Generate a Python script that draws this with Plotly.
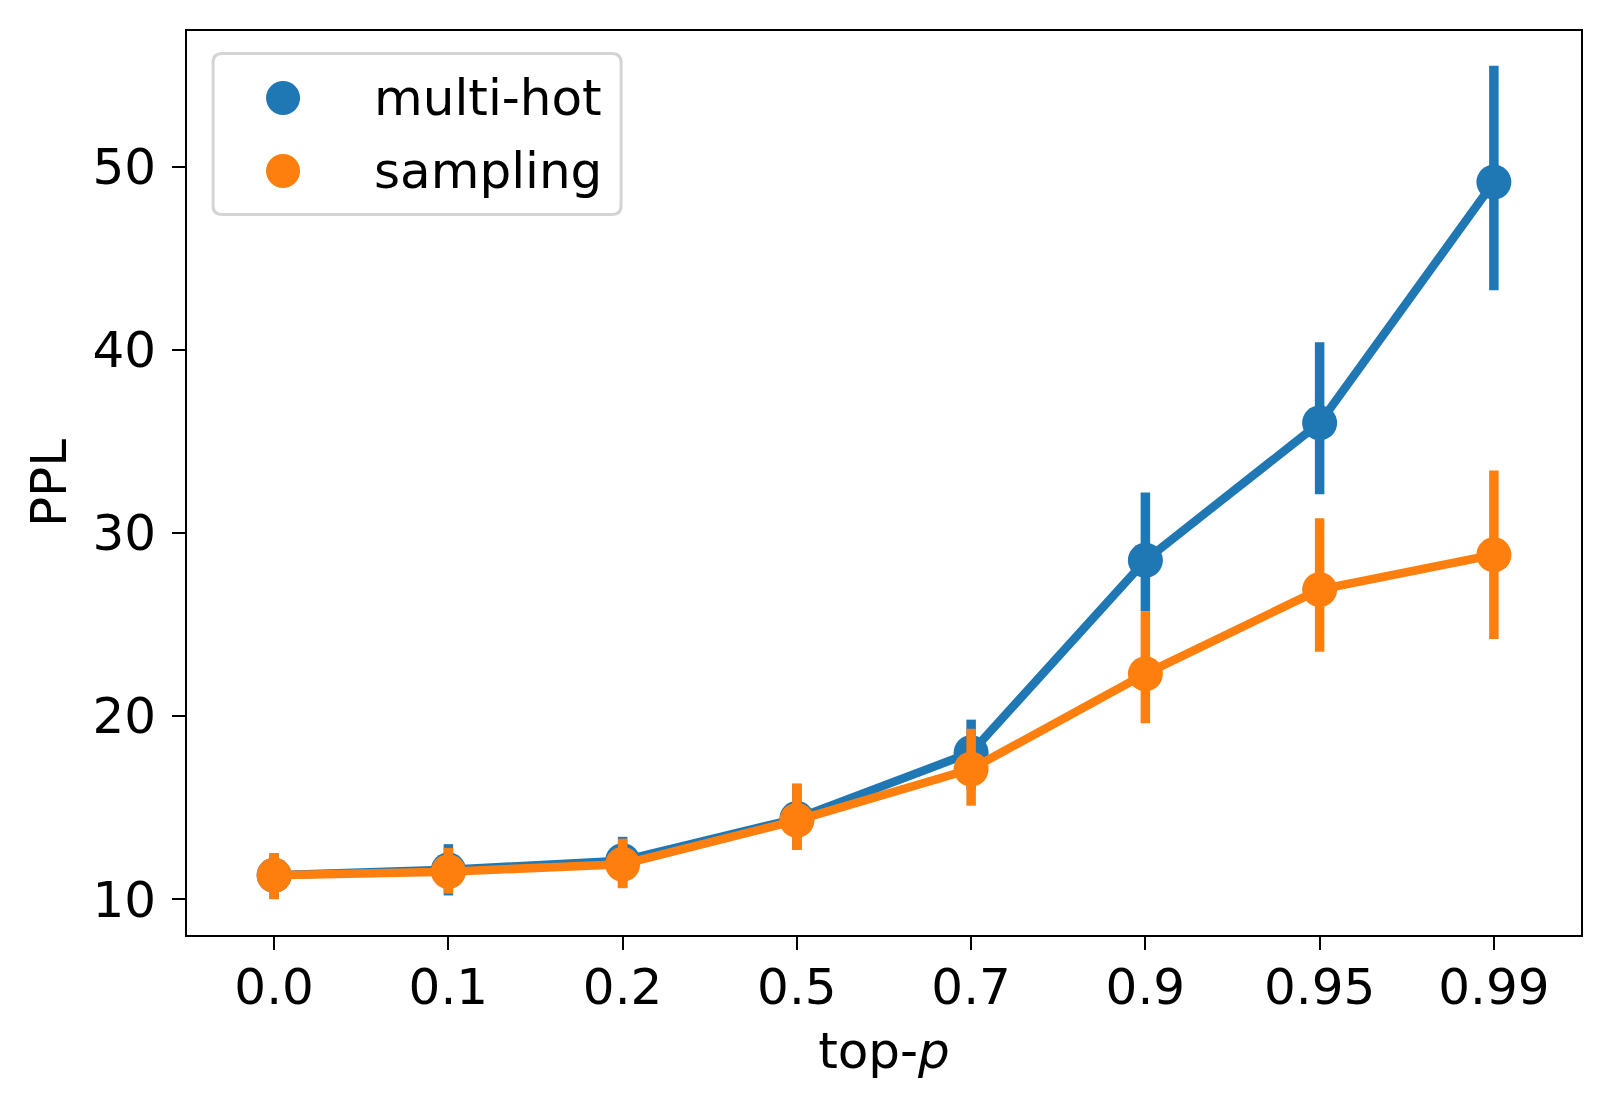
import plotly.graph_objects as go

top_p = ["0.0", "0.1", "0.2", "0.5", "0.7", "0.9", "0.95", "0.99"]

multi_hot_mean = [11.3, 11.6, 12.1, 14.4, 18.0, 28.5, 36.0, 49.15]
multi_hot_hi = [12.5, 13.0, 13.4, 16.3, 19.8, 32.2, 40.4, 55.5]
multi_hot_lo = [10.0, 10.2, 10.6, 12.7, 16.0, 25.7, 32.1, 43.25]

sampling_mean = [11.3, 11.5, 11.9, 14.3, 17.1, 22.3, 26.9, 28.8]
sampling_hi = [12.5, 12.8, 13.3, 16.3, 19.3, 25.7, 30.8, 33.4]
sampling_lo = [10.0, 10.3, 10.6, 12.7, 15.1, 19.6, 23.5, 24.2]

y_ticks = [10, 20, 30, 40, 50]

BLUE = "#1f77b4"
ORANGE = "#ff7f0e"
FONT = "DejaVu Sans"
FS = 50


def add_series(fig, name, mean, lo, hi, color):
    up = [h - m for h, m in zip(hi, mean)]
    down = [m - l for m, l in zip(mean, lo)]
    fig.add_trace(go.Scatter(
        x=top_p, y=mean, name=name, mode="lines+markers",
        line=dict(color=color, width=8.5),
        marker=dict(color=color, size=35, line=dict(width=0)),
        error_y=dict(type="data", array=up, arrayminus=down,
                     color=color, thickness=9.5, width=0),
        showlegend=False,
    ))


fig = go.Figure()
add_series(fig, "multi-hot", multi_hot_mean, multi_hot_lo, multi_hot_hi, BLUE)
add_series(fig, "sampling", sampling_mean, sampling_lo, sampling_hi, ORANGE)

# legend drawn by hand (matplotlib-style rounded box with big round markers)
# box is 408 x 161 px, anchored at its top-left corner
w, h, r = 408, 161, 9
box = (f"M {r},0 L {w - r},0 Q {w},0 {w},{-r} L {w},{-(h - r)} "
       f"Q {w},{-h} {w - r},{-h} L {r},{-h} Q 0,{-h} 0,{-(h - r)} "
       f"L 0,{-r} Q 0,0 {r},0 Z")
fig.add_shape(type="path", xref="paper", yref="paper",
              xsizemode="pixel", ysizemode="pixel",
              xanchor=0.0187, yanchor=0.9751, path=box,
              line=dict(color="rgba(204,204,204,0.85)", width=3),
              fillcolor="rgba(255,255,255,0.8)", layer="above")
for name, color, yy in [("multi-hot", BLUE, 0.9259), ("sampling", ORANGE, 0.8451)]:
    fig.add_shape(type="circle", xref="paper", yref="paper",
                  xsizemode="pixel", ysizemode="pixel",
                  xanchor=0.0689, yanchor=yy, x0=-17, x1=17, y0=-17, y1=17,
                  fillcolor=color, line=dict(width=0), layer="above")
    fig.add_annotation(x=0.1325, y=yy, xref="paper", yref="paper",
                       text=name, showarrow=False, xanchor="left", yanchor="middle",
                       font=dict(family=FONT, size=FS, color="black"))

axis_common = dict(showline=True, mirror=True, linecolor="black", linewidth=2,
                   ticks="outside", ticklen=13, tickwidth=2, tickcolor="black",
                   showgrid=False, zeroline=False,
                   tickfont=dict(family=FONT, size=FS, color="black"))

fig.update_xaxes(type="category", categoryorder="array", categoryarray=top_p,
                 range=[-0.5, 7.5], ticklabelstandoff=-6,
                 title=dict(text="top-<i>p</i>", standoff=18,
                            font=dict(family=FONT, size=FS, color="black")),
                 **axis_common)
fig.update_yaxes(range=[8.04, 57.4], tickvals=y_ticks, ticklabelstandoff=6,
                 title=dict(text="PPL", standoff=10,
                            font=dict(family=FONT, size=FS, color="black")),
                 **axis_common)

fig.update_layout(width=1612, height=1108,
                  margin=dict(l=187, r=31, t=31, b=173),
                  plot_bgcolor="white", paper_bgcolor="white",
                  font=dict(family=FONT, size=FS, color="black"))

fig.write_html("out.html", config={"displayModeBar": False},
               post_script="document.body.style.margin='0';")
